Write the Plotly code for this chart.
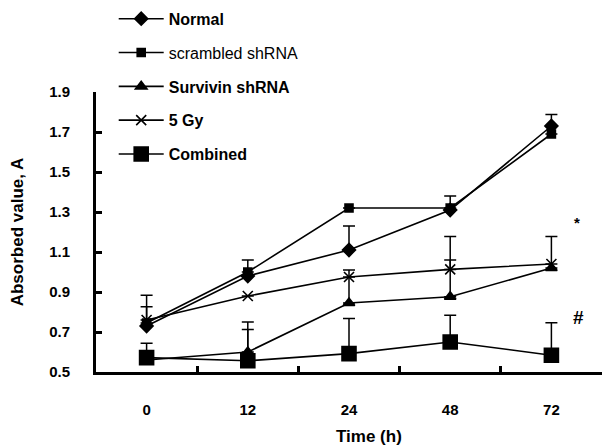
import plotly.graph_objects as go

times = ["0", "12", "24", "48", "72"]

normal = [0.73, 0.98, 1.11, 1.31, 1.73]
normal_err = [0.154, 0.08, 0.12, 0.07, 0.057]

scrambled = [0.745, 1.0, 1.32, 1.32, 1.69]
scrambled_err = [None, None, None, None, None]

survivin = [0.56, 0.60, 0.845, 0.876, 1.02]
survivin_err = [None, 0.15, 0.165, 0.184, 0.157]

gy5 = [0.76, 0.88, 0.975, 1.013, 1.04]
gy5_err = [0.066, None, None, 0.164, None]

combined = [0.572, 0.556, 0.592, 0.65, 0.584]
combined_err = [0.072, 0.157, 0.176, 0.134, 0.162]

y_ticks = [0.5, 0.7, 0.9, 1.1, 1.3, 1.5, 1.7, 1.9]

series = [
    ("<b>Normal</b>", normal, normal_err, "diamond", 10),
    ("scrambled shRNA", scrambled, scrambled_err, "square", 8),
    ("<b>Survivin shRNA</b>", survivin, survivin_err, "triangle-up", 10),
    ("<b>5 Gy</b>", gy5, gy5_err, "x-thin-open", 10),
    ("<b>Combined</b>", combined, combined_err, "square", 14),
]

FONT = "Liberation Sans, Arial, sans-serif"

fig = go.Figure()
for i, (name, vals, err, sym, size) in enumerate(series):
    fig.add_trace(go.Scatter(
        x=times, y=vals, name=name, mode="lines+markers",
        legendgroup=f"g{i}",
        line=dict(color="black", width=1.6),
        marker=dict(symbol=sym, size=size, color="black",
                    line=dict(color="black", width=1.6)),
        error_y=dict(type="data", array=err, symmetric=False,
                     arrayminus=[0] * len(err), color="black",
                     thickness=1.5, width=6, visible=True),
    ))

fig.add_annotation(x=4.25, y=1.25, text="<b>*</b>", showarrow=False,
                   font=dict(family=FONT, size=15, color="black"))
fig.add_annotation(x=4.27, y=0.775, text="<b>#</b>", showarrow=False,
                   font=dict(family=FONT, size=19, color="black"))
fig.add_annotation(xref="paper", yref="paper", x=0.54, y=-0.232,
                   text="<b>Time (h)</b>", showarrow=False, yanchor="middle",
                   font=dict(family=FONT, size=17, color="black"))

fig.update_layout(
    width=614, height=447,
    margin=dict(l=88, r=20, t=84, b=83, autoexpand=False),
    paper_bgcolor="white", plot_bgcolor="white",
    font=dict(family=FONT, color="black"),
    showlegend=True,
    legend=dict(x=0.035, y=1.322, xanchor="left", yanchor="top",
                traceorder="grouped", tracegroupgap=10, itemwidth=45,
                font=dict(family=FONT, size=16, color="black"),
                bgcolor="rgba(0,0,0,0)"),
    xaxis=dict(type="category", range=[-0.5, 4.5], showline=True,
               linecolor="black", linewidth=3, ticks="inside",
               tickson="boundaries", ticklen=6, tickwidth=3,
               tickcolor="black", showgrid=False, zeroline=False,
               automargin=True, ticklabelstandoff=22,
               tickfont=dict(family=FONT, size=15, color="black"),
               tickprefix="<b>", ticksuffix="</b>"),
    yaxis=dict(range=[0.5, 1.9], tickvals=y_ticks,
               ticktext=[f"<b>{v:.1f}</b>" for v in y_ticks],
               showline=True, linecolor="black", linewidth=3,
               ticks="inside", ticklen=6, tickwidth=3, tickcolor="black",
               showgrid=False, zeroline=False, automargin=True,
               ticklabelstandoff=20,
               tickfont=dict(family=FONT, size=15, color="black"),
               title=dict(text="<b>Absorbed value, A</b>", standoff=22,
                          font=dict(family=FONT, size=17, color="black"))),
)

fig.write_html("out.html")
